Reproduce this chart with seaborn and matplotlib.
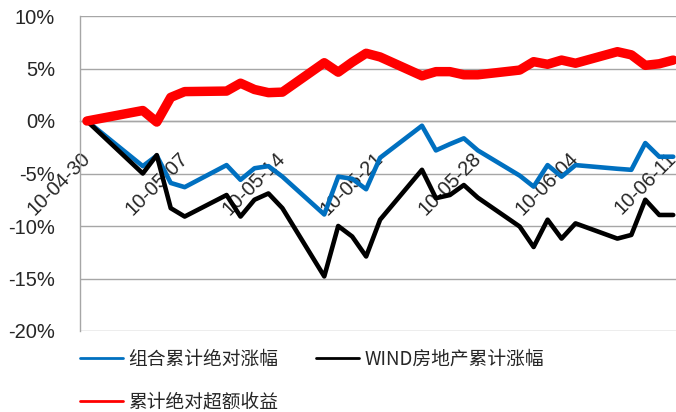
import matplotlib
matplotlib.use("Agg")
import matplotlib.pyplot as plt
import seaborn as sns
import pandas as pd
import numpy as np
from matplotlib.lines import Line2D
from matplotlib.ticker import FixedLocator, FuncFormatter

dates = ["2010-04-30", "2010-05-04", "2010-05-05", "2010-05-06", "2010-05-07",
         "2010-05-10", "2010-05-11", "2010-05-12", "2010-05-13", "2010-05-14",
         "2010-05-17", "2010-05-18", "2010-05-19", "2010-05-20", "2010-05-21",
         "2010-05-24", "2010-05-25", "2010-05-26", "2010-05-27", "2010-05-28",
         "2010-05-31", "2010-06-01", "2010-06-02", "2010-06-03", "2010-06-04",
         "2010-06-07", "2010-06-08", "2010-06-09", "2010-06-10", "2010-06-11"]

portfolio = [0, -4.3, -3.3, -5.9, -6.3, -4.2, -5.6, -4.5, -4.3, -5.3,
             -8.9, -5.3, -5.5, -6.5, -3.5, -0.45, -2.8, -2.2, -1.65, -2.8,
             -5.2, -6.25, -4.2, -5.3, -4.2, -4.55, -4.65, -2.1, -3.4, -3.4]

wind_index = [0, -5.0, -3.25, -8.3, -9.1, -7.05, -9.1, -7.5, -6.9, -8.3,
              -14.8, -10.0, -11.0, -12.9, -9.4, -4.65, -7.35, -7.05, -6.1, -7.3,
              -10.05, -12.0, -9.4, -11.2, -9.75, -11.2, -10.85, -7.5, -8.95, -8.95]

excess = [0, 1.0, -0.1, 2.25, 2.8, 2.85, 3.6, 3.0, 2.7, 2.75,
          5.55, 4.65, 5.6, 6.45, 6.1, 4.3, 4.7, 4.7, 4.4, 4.4,
          4.85, 5.65, 5.4, 5.8, 5.5, 6.6, 6.3, 5.3, 5.45, 5.8]

series_names = ["组合累计绝对涨幅", "WIND房地产累计涨幅", "累计绝对超额收益"]
xtick_labels = ["10-04-30", "10-05-07", "10-05-14", "10-05-21",
                "10-05-28", "10-06-04", "10-06-11"]
ytick_values = [-20, -15, -10, -5, 0, 5, 10]

sns.set_style("white")
plt.rcParams["font.family"] = ["Liberation Sans", "Noto Sans CJK SC", "DejaVu Sans"]

dt = pd.to_datetime(dates)
days = (dt - dt[0]).days.astype(float)
df = pd.DataFrame({"day": days, "p": portfolio, "w": wind_index, "e": excess})

fig = plt.figure(figsize=(6.76, 4.12), dpi=100)
W, H = 676, 412
left, right_px, top_px, bot_px = 80, 676, 16, 331
ax = fig.add_axes([left / W, 1 - bot_px / H, (right_px - left) / W, (bot_px - top_px) / H])

grid_c = "#a6a6a6"
for v in ytick_values:
    ax.axhline(v, color=grid_c, lw=1.0, zorder=0)

sns.lineplot(data=df, x="day", y="p", ax=ax, color="#0070C0", lw=3.3, zorder=3)
sns.lineplot(data=df, x="day", y="w", ax=ax, color="#000000", lw=3.3, zorder=3)
sns.lineplot(data=df, x="day", y="e", ax=ax, color="#FF0000", lw=6.8, zorder=4)

ax.set_ylim(-20, 10)
ax.set_xlim(-0.5, 42.2)
ax.set_xlabel("")
ax.set_ylabel("")

# spines
for s in ["top", "right"]:
    ax.spines[s].set_visible(False)
ax.spines["left"].set_color(grid_c)
ax.spines["left"].set_linewidth(1.0)
ax.spines["bottom"].set_position(("data", 0))
ax.spines["bottom"].set_color(grid_c)
ax.spines["bottom"].set_linewidth(1.0)

# y ticks
ax.yaxis.set_major_locator(FixedLocator(ytick_values))
ax.yaxis.set_major_formatter(FuncFormatter(lambda v, p: f"{int(v)}%"))
ax.tick_params(axis="y", direction="out", length=6, width=1.0, color=grid_c,
               pad=12, labelsize=14.5, labelcolor="#262626")

# x ticks: marks between days, labels at weekly dates
label_pos = [7 * i for i in range(len(xtick_labels))]
ax.xaxis.set_major_locator(FixedLocator([p - 0.5 for p in label_pos]))
ax.xaxis.set_major_formatter(FuncFormatter(lambda v, p: ""))
ax.xaxis.set_minor_locator(FixedLocator(label_pos))
ax.set_xticklabels(xtick_labels, minor=True)
ax.tick_params(axis="x", which="major", direction="out", length=5, width=1.0, color=grid_c)
ax.tick_params(axis="x", which="minor", length=0, pad=25, labelsize=14.5, labelcolor="#262626")
for lab in ax.get_xticklabels(minor=True):
    lab.set_rotation(45)
    lab.set_ha("right")
    lab.set_va("center")
    lab.set_rotation_mode("anchor")

# legend
handles = [Line2D([], [], color="#0070C0", lw=2),
           Line2D([], [], color="#FF0000", lw=2),
           Line2D([], [], color="#000000", lw=2)]
labels = [series_names[0], series_names[2], series_names[1]]
fig.legend(handles, labels, ncol=2, loc="upper left",
           bbox_to_anchor=(72 / W, 1 - 341 / H), frameon=False,
           prop={"family": ["Noto Sans CJK SC", "DejaVu Sans"], "size": 13.5},
           handlelength=2.3, handletextpad=0.3, columnspacing=2.0,
           labelspacing=1.15, borderaxespad=0)

fig.savefig("out.png", dpi=100)
